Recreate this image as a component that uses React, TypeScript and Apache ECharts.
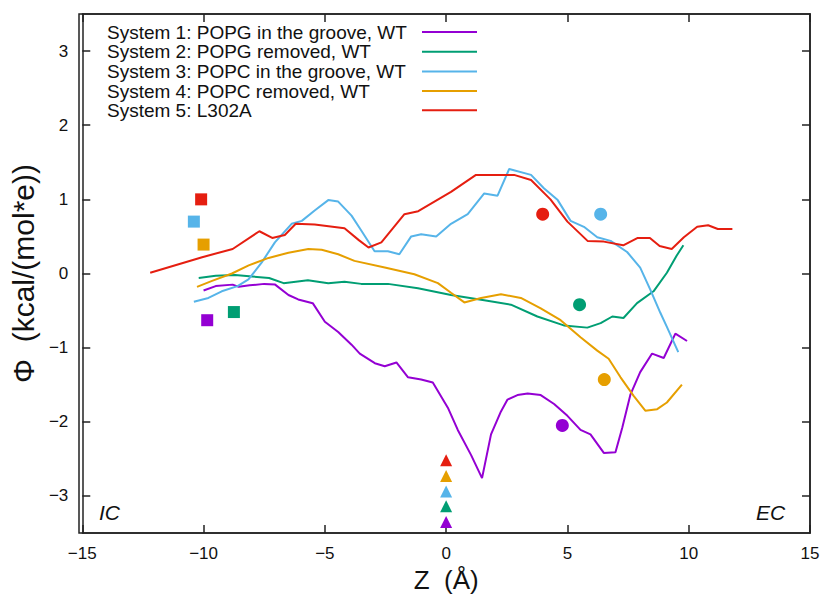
import React, { useEffect, useRef } from "react";
import * as echarts from "echarts";

const seriesNames = [
  "System 1: POPG in the groove, WT",
  "System 2: POPG removed, WT",
  "System 3: POPC in the groove, WT",
  "System 4: POPC removed, WT",
  "System 5: L302A",
];
const colors = ["#9400d3", "#009e73", "#56b4e9", "#e69f00", "#e51e10"];

const xTicks = [-15, -10, -5, 0, 5, 10, 15];
const yTicks = [-3, -2, -1, 0, 1, 2, 3];

const sys1: [number, number][] = [
  [-10, -0.23], [-9.5, -0.17], [-8.8, -0.15], [-8.55, -0.18], [-8.1, -0.16], [-7.5, -0.14],
  [-7.05, -0.15], [-6.5, -0.29], [-6.1, -0.35], [-5.5, -0.4], [-5.0, -0.65], [-4.45, -0.79],
  [-3.9, -0.96], [-3.56, -1.08], [-2.94, -1.21], [-2.53, -1.25], [-2.05, -1.2], [-1.57, -1.4],
  [-1.03, -1.43], [-0.55, -1.47], [0.07, -1.81], [0.48, -2.11], [1.03, -2.45], [1.48, -2.76],
  [1.85, -2.17], [2.26, -1.86], [2.53, -1.7], [2.94, -1.64], [3.36, -1.62], [3.9, -1.64],
  [4.45, -1.76], [5.0, -1.92], [5.54, -2.11], [5.95, -2.17], [6.5, -2.42], [6.98, -2.41],
  [7.26, -2.08], [7.6, -1.63], [8.0, -1.33], [8.49, -1.08], [8.97, -1.14], [9.45, -0.81],
  [9.93, -0.91],
];
const sys2: [number, number][] = [
  [-10.2, -0.06], [-9.5, -0.03], [-8.7, -0.02], [-8.0, -0.04], [-7.3, -0.06], [-6.7, -0.13],
  [-5.7, -0.09], [-4.86, -0.13], [-4.19, -0.11], [-3.5, -0.14], [-2.4, -0.14], [-1.16, -0.2],
  [0.2, -0.29], [1.57, -0.36], [2.67, -0.42], [3.76, -0.58], [4.85, -0.7], [5.82, -0.73],
  [6.37, -0.67], [6.85, -0.58], [7.31, -0.6], [7.87, -0.4], [8.55, -0.24], [9.1, 0.01],
  [9.5, 0.24], [9.78, 0.38],
];
const sys3: [number, number][] = [
  [-10.4, -0.38], [-9.8, -0.33], [-9.25, -0.24], [-8.6, -0.17], [-8.15, -0.08], [-7.6, 0.15],
  [-7.06, 0.42], [-6.37, 0.67], [-5.95, 0.71], [-5.42, 0.85], [-4.86, 0.99], [-4.45, 0.97],
  [-3.9, 0.78], [-3.5, 0.58], [-2.95, 0.3], [-2.4, 0.3], [-1.93, 0.26], [-1.44, 0.5],
  [-1.03, 0.53], [-0.41, 0.5], [0.2, 0.67], [0.89, 0.8], [1.57, 1.08], [2.12, 1.05],
  [2.6, 1.41], [3.5, 1.33], [4.03, 1.15], [4.6, 0.99], [5.13, 0.71], [5.68, 0.63],
  [6.23, 0.49], [6.78, 0.44], [7.46, 0.29], [8.0, 0.08], [8.42, -0.22], [8.83, -0.53],
  [9.1, -0.72], [9.57, -1.06],
];
const sys4: [number, number][] = [
  [-10.27, -0.18], [-9.65, -0.1], [-8.83, 0.0], [-8.14, 0.11], [-7.32, 0.21], [-6.5, 0.28],
  [-5.68, 0.33], [-5.13, 0.32], [-4.45, 0.26], [-3.78, 0.17], [-2.53, 0.08], [-1.31, -0.01],
  [-0.34, -0.13], [0.2, -0.26], [0.75, -0.39], [1.44, -0.33], [2.26, -0.28], [3.08, -0.33],
  [3.9, -0.47], [4.72, -0.63], [5.54, -0.86], [6.23, -1.04], [6.7, -1.15], [7.19, -1.4],
  [7.73, -1.65], [8.21, -1.85], [8.7, -1.83], [9.1, -1.74], [9.72, -1.5],
];
const sys5: [number, number][] = [
  [-12.2, 0.01], [-10.06, 0.22], [-8.8, 0.33], [-7.7, 0.57], [-7.17, 0.48], [-6.65, 0.52],
  [-6.2, 0.67], [-5.42, 0.66], [-4.19, 0.61], [-3.6, 0.45], [-3.2, 0.35], [-2.67, 0.42],
  [-1.72, 0.8], [-1.15, 0.84], [0.2, 1.1], [1.23, 1.33], [2.8, 1.33], [3.5, 1.26],
  [4.3, 1.0], [5.0, 0.7], [5.83, 0.44], [6.5, 0.43], [7.3, 0.38], [7.9, 0.48], [8.4, 0.48],
  [8.8, 0.37], [9.3, 0.33], [9.8, 0.49], [10.35, 0.63], [10.8, 0.65], [11.2, 0.6], [11.8, 0.6],
];
const lines = [sys1, sys2, sys3, sys4, sys5];

// markers: [x, y] for systems 1..5
const squares: [number, number][] = [[-9.85, -0.63], [-8.75, -0.52], [-10.4, 0.7], [-10.0, 0.39], [-10.1, 1.0]];
const circles: [number, number][] = [[4.79, -2.05], [5.5, -0.42], [6.37, 0.8], [6.52, -1.43], [3.98, 0.8]];
const triangles: [number, number][] = [[0, -3.35], [0, -3.14], [0, -2.94], [0, -2.73], [0, -2.52]];

const FONT = "Liberation Sans, Arial, Helvetica, sans-serif";
const fmt = (v: number) => (v < 0 ? "\u2212" + Math.abs(v) : String(v));

const GRID = { left: 79, right: 16, top: 14, bottom: 68 };

export default function App() {
  const ref = useRef<HTMLDivElement>(null);
  useEffect(() => {
    if (!ref.current) return;
    const chart = echarts.init(ref.current, undefined, { renderer: "svg" });
    const axisLine = () => ({ show: true, onZero: false, lineStyle: { color: "#222", width: 1.5 } });
    const tick = (vals?: number[]) => ({
      show: true, inside: true, length: 8, lineStyle: { color: "#222", width: 1.5 },
      ...(vals ? { customValues: vals } : {}),
    });
    const series: any[] = [];
    lines.forEach((d, i) => {
      series.push({
        type: "line", name: seriesNames[i], data: d, showSymbol: false, symbol: "none",
        lineStyle: { color: colors[i], width: 2 }, z: 3 + i,
      });
    });
    const markerSeries = (arr: [number, number][], symbol: string, size: number) =>
      arr.forEach((p, i) => {
        series.push({
          type: "scatter", data: [p], symbol, symbolSize: size,
          itemStyle: { color: colors[i], opacity: 1 }, z: 10,
        });
      });
    markerSeries(squares, "rect", 12);
    markerSeries(circles, "circle", 13);
    markerSeries(triangles, "triangle", 12);

    const W = 826, H = 601;
    const graphics: any[] = [
      {
        type: "rect", z: 100, silent: true,
        shape: { x: GRID.left, y: GRID.top, width: W - GRID.left - GRID.right, height: H - GRID.top - GRID.bottom },
        style: { fill: "none", stroke: "#222", lineWidth: 1.5 },
      },
    ];
    const rowY = [32, 51.7, 71.5, 91, 110.3];
    seriesNames.forEach((n, i) => {
      graphics.push({
        type: "text", x: 107, y: rowY[i],
        style: {
          text: n, fontSize: 19, lineHeight: 17, fontFamily: FONT, fill: "#111",
          verticalAlign: "middle", align: "left",
        },
      });
      graphics.push({
        type: "line", shape: { x1: 422, y1: rowY[i], x2: 477, y2: rowY[i] },
        style: { stroke: colors[i], lineWidth: 2 },
      });
    });
    graphics.push({
      type: "text", left: 99, top: 502,
      style: { text: "IC", fontSize: 21, fontStyle: "italic", fontFamily: FONT, fill: "#111" },
    });
    graphics.push({
      type: "text", left: 756, top: 502,
      style: { text: "EC", fontSize: 21, fontStyle: "italic", fontFamily: FONT, fill: "#111" },
    });

    chart.setOption({
      animation: false,
      backgroundColor: "#fff",
      grid: { ...GRID },
      xAxis: [
        {
          type: "value", min: -15, max: 15, interval: 5, position: "bottom",
          axisLine: axisLine(), axisTick: tick(), splitLine: { show: false },
          axisLabel: { formatter: fmt, fontSize: 17, fontFamily: FONT, color: "#111", margin: 12 },
          name: "Z  (Å)", nameLocation: "middle", nameGap: 30,
          nameTextStyle: { fontSize: 26, fontFamily: FONT, color: "#111" },
        },
        {
          type: "value", min: -15, max: 15, interval: 5, position: "top",
          axisLine: axisLine(), axisTick: tick(), splitLine: { show: false }, axisLabel: { show: false },
        },
      ],
      yAxis: [
        {
          type: "value", min: -3.5, max: 3.5, position: "left",
          axisLine: axisLine(), axisTick: tick(yTicks), splitLine: { show: false },
          axisLabel: { customValues: yTicks, formatter: fmt, fontSize: 17, fontFamily: FONT, color: "#111", margin: 14 },
          name: "Φ  (kcal/(mol*e))", nameLocation: "middle", nameGap: 35,
          nameTextStyle: { fontSize: 30, fontFamily: FONT, color: "#111" },
        },
        {
          type: "value", min: -3.5, max: 3.5, position: "right",
          axisLine: axisLine(), axisTick: tick(yTicks), splitLine: { show: false },
          axisLabel: { show: false },
        },
      ],
      series,
      graphic: graphics,
    });
    return () => chart.dispose();
  }, []);
  return <div ref={ref} style={{ width: 826, height: 601, position: "absolute", left: 0, top: 0 }} />;
}
